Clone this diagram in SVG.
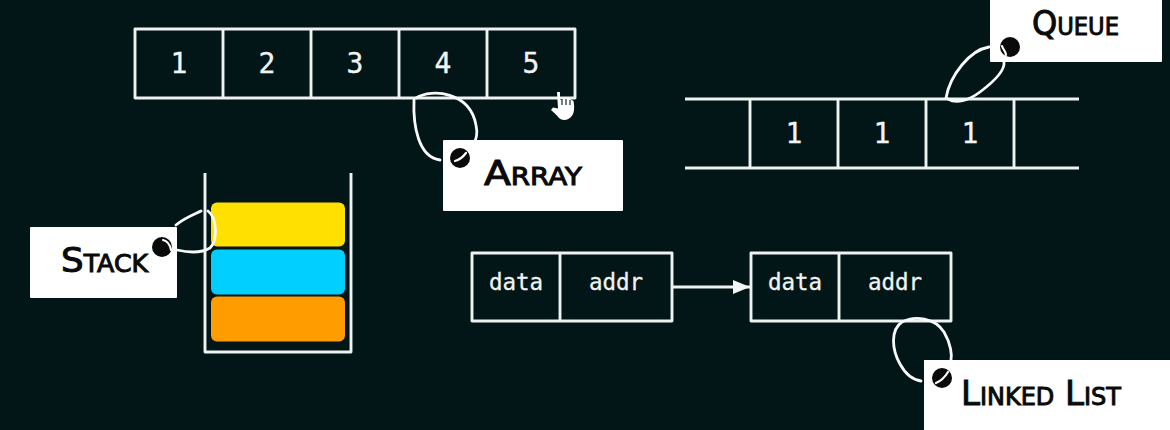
<svg xmlns="http://www.w3.org/2000/svg" width="1170" height="430" viewBox="0 0 1170 430">
<style>
.ln{fill:none;stroke:#eef3f1;stroke-width:2.9;stroke-linejoin:round}
.cv{fill:none;stroke:#f8faf9;stroke-width:2.8;stroke-linecap:round}
.num{font-family:"DejaVu Sans Mono",monospace;font-size:28px;fill:#f0f4f2;stroke:#f0f4f2;stroke-width:.35;text-anchor:middle}
.mono{font-family:"DejaVu Sans Mono",monospace;font-size:22.5px;fill:#f0f4f2;stroke:#f0f4f2;stroke-width:.3;text-anchor:middle}
.tag{fill:#fff}
.lab{font-family:"DejaVu Sans",sans-serif;font-variant:small-caps;font-size:34px;fill:#0a0a0a;stroke:#0a0a0a;stroke-width:1}
.dot{fill:#0a0a0a}
.gl{fill:none;stroke:#fff;stroke-width:2.2;stroke-linecap:round}
</style>
<defs>
<marker id="ah" markerUnits="userSpaceOnUse" markerWidth="18" markerHeight="16" refX="17" refY="8" orient="auto"><path d="M0 1L17 8L0 15Z" fill="#f2f6f4"/></marker>
</defs>
<rect width="1170" height="430" fill="#021517"/>

<g id="array">
<rect class="ln" x="135" y="29" width="440" height="69"/>
<path class="ln" d="M223 29V98M311 29V98M399 29V98M487 29V98"/>
<text class="num" x="179" y="73">1</text>
<text class="num" x="267" y="73">2</text>
<text class="num" x="355" y="73">3</text>
<text class="num" x="443" y="73">4</text>
<text class="num" x="531" y="73">5</text>
</g>

<g id="array-label">
<path class="cv" d="M414 100C413 125 418 157 440 160M416 98C432 88 470 92 476 125C478 134 476 140 474 142"/>
<rect class="tag" x="443" y="140" width="180" height="71" rx="1"/>
<circle class="dot" cx="460" cy="158" r="10"/>
<path class="gl" d="M455 161C459 160 463 157 466 153"/>
<text class="lab" x="484" y="185" textLength="98" lengthAdjust="spacingAndGlyphs">Array</text>
</g>

<g id="cursor">
<path d="M557 92H560V100L566 98L570 99L573.500 101C574.500 106 574.500 112 572.500 115C569 121 562 121 559 118C557 115 554 113 551 110L553 107.500L558 108.500Z" fill="#fff"/>
<path d="M562 99V105M566 99V105M570 100V105" stroke="#021517" stroke-width="1.100" fill="none"/>
</g>

<g id="queue">
<path class="ln" d="M685 99H1079M685 168H1079M750 99V168M838 99V168M926 99V168M1014 99V168"/>
<text class="num" x="794" y="143">1</text>
<text class="num" x="882" y="143">1</text>
<text class="num" x="970" y="143">1</text>
</g>

<g id="queue-label">
<path class="cv" d="M946 98C950 75 970 50 989 47M948 99C956 104 968 101 980 92C996 80 1005 70 1004 62"/>
<rect class="tag" x="990" y="-2" width="172" height="64" rx="1"/>
<circle class="dot" cx="1010" cy="47" r="10"/>
<path class="gl" d="M1002 46C1003 50 1006 51 1006 55"/>
<text class="lab" x="1032" y="35" textLength="87" lengthAdjust="spacingAndGlyphs">Queue</text>
</g>

<g id="stack">
<path class="ln" d="M205 173V352H351V173"/>
<rect x="211" y="202.500" width="134" height="44" rx="6" fill="#ffe000"/>
<rect x="211" y="249.500" width="134" height="45" rx="6" fill="#00cfff"/>
<rect x="211" y="296.500" width="134" height="45" rx="6" fill="#ff9c00"/>
</g>

<g id="stack-label">
<path class="cv" d="M176 225C184 218 195 214 201 211M208 211C217 218 218 240 210 248C200 254 186 252 177 250"/>
<rect class="tag" x="30" y="227" width="147" height="71" rx="1"/>
<circle class="dot" cx="162" cy="247" r="10"/>
<path class="gl" d="M163 240C168 241 170 245 171 250"/>
<text class="lab" x="61" y="272" textLength="87" lengthAdjust="spacingAndGlyphs">Stack</text>
</g>

<g id="node-1">
<rect class="ln" x="472" y="253" width="200" height="68"/>
<path class="ln" d="M560 253V321"/>
<text class="mono" x="516" y="290">data</text>
<text class="mono" x="616" y="290">addr</text>
</g>

<g id="node-2">
<rect class="ln" x="751" y="253" width="200" height="68"/>
<path class="ln" d="M839 253V321"/>
<text class="mono" x="795" y="290">data</text>
<text class="mono" x="895" y="290">addr</text>
</g>

<g id="connectors">
<path class="ln" d="M672 287H750" marker-end="url(#ah)"/>
</g>

<g id="linked-list-label">
<path class="cv" d="M902 322C890 330 892 350 900 364C906 375 914 380 921 381M902 322C915 315 935 318 944 332C951 344 952 355 951 360"/>
<rect class="tag" x="924" y="360" width="250" height="72"/>
<circle class="dot" cx="942" cy="378" r="10"/>
<path class="gl" d="M936 383C941 381 945 377 948 372"/>
<text class="lab" x="961" y="405" textLength="160" lengthAdjust="spacingAndGlyphs">Linked List</text>
</g>
</svg>
